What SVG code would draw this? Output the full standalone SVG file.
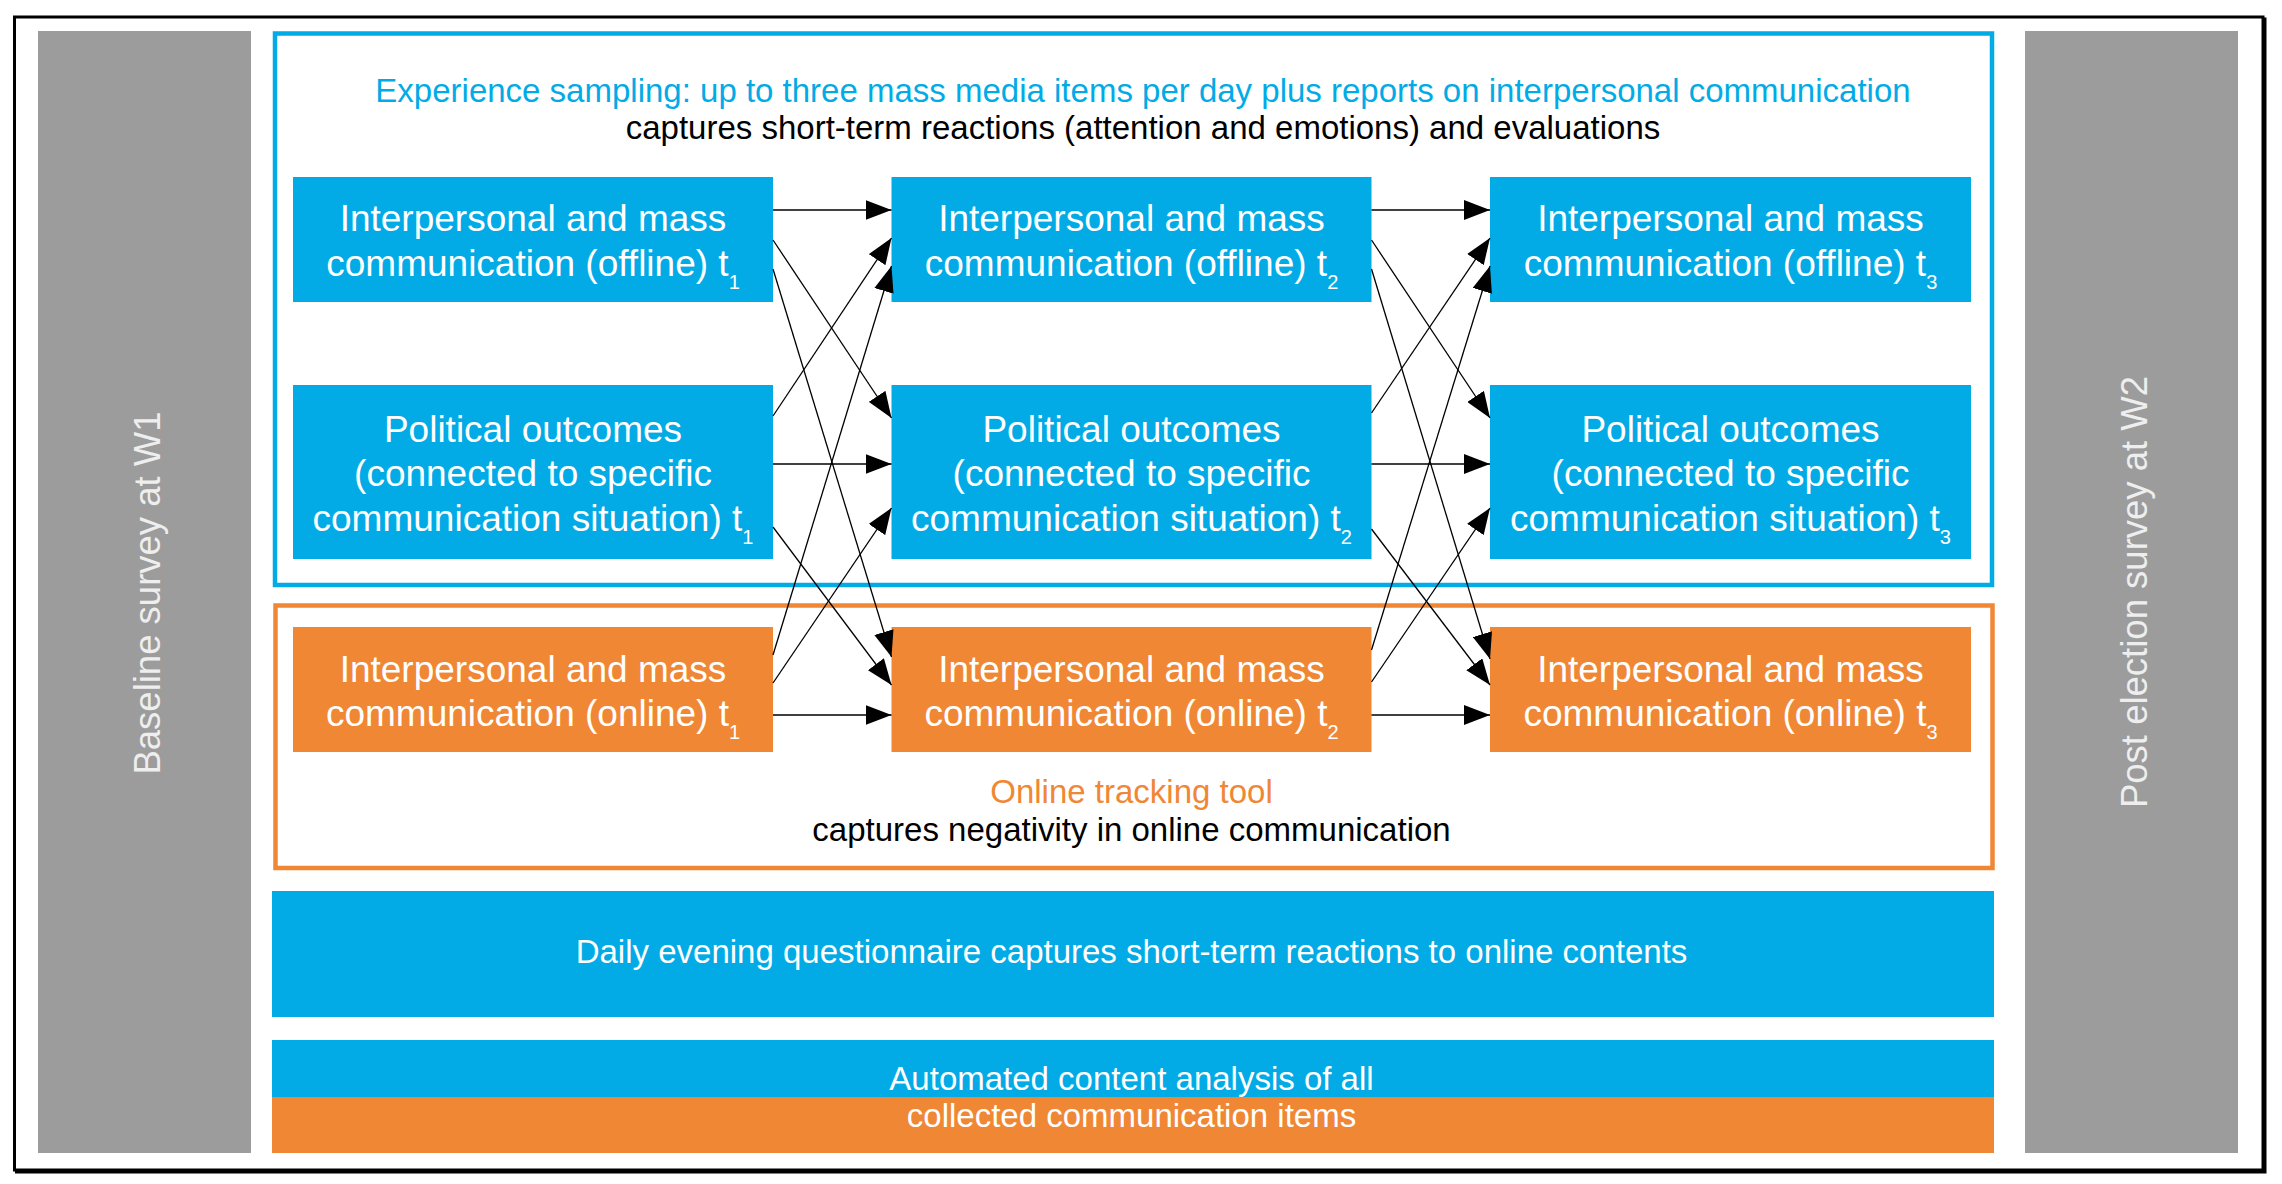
<svg xmlns="http://www.w3.org/2000/svg" width="2282" height="1184" viewBox="0 0 2282 1184">
  <style>
    .t { font-family: "Liberation Sans", Arial, sans-serif; }
    .node-blue { fill: #02abe6; }
    .node-orange { fill: #f08735; }
    .bar { fill: #9c9c9c; }
    .nt { font-family: "Liberation Sans", Arial, sans-serif; font-size: 37px; fill: #ffffff; text-anchor: middle; }
    .sub { font-size: 20px; }
    .side { font-family: "Liberation Sans", Arial, sans-serif; font-size: 36.5px; fill: #eeeeee; text-anchor: middle; }
    .cap { font-family: "Liberation Sans", Arial, sans-serif; font-size: 33px; text-anchor: middle; }
    .conn line { stroke: #000000; stroke-width: 1.3; marker-end: url(#arrow); }
  </style>
  <defs>
    <marker id="arrow" markerUnits="userSpaceOnUse" markerWidth="26" markerHeight="20" refX="26" refY="10" orient="auto">
      <path d="M0,0 L26,10 L0,20 Z" fill="#000000"/>
    </marker>
  </defs>

  <rect width="2282" height="1184" fill="#ffffff"/>

  <!-- outer frame with slight shadow -->
  <rect x="16.5" y="19" width="2248.5" height="1153" fill="none" stroke="#000000" stroke-width="3"/>
  <rect x="14.5" y="17" width="2248.5" height="1153" fill="#ffffff" stroke="#000000" stroke-width="3"/>

  <!-- side survey bars -->
  <g id="baseline-survey">
    <rect class="bar" x="38" y="31" width="213" height="1122"/>
    <text class="side" transform="translate(160,593) rotate(-90)">Baseline survey at W1</text>
  </g>
  <g id="post-election-survey">
    <rect class="bar" x="2025" y="31" width="213" height="1122"/>
    <text class="side" transform="translate(2147,592) rotate(-90)">Post election survey at W2</text>
  </g>

  <!-- experience sampling frame -->
  <g id="experience-sampling">
    <rect x="275" y="33.5" width="1717" height="551.5" fill="none" stroke="#02abe6" stroke-width="4.5"/>
    <text class="cap" x="1143" y="101.5" fill="#02abe6">Experience sampling: up to three mass media items per day plus reports on interpersonal communication</text>
    <text class="cap" x="1143" y="138.5" fill="#000000">captures short-term reactions (attention and emotions) and evaluations</text>
  </g>

  <!-- online tracking frame -->
  <g id="online-tracking">
    <rect x="275.5" y="605.5" width="1717" height="262.5" fill="none" stroke="#f08735" stroke-width="4.5"/>
    <text class="cap" x="1131.5" y="802.5" fill="#f08735">Online tracking tool</text>
    <text class="cap" x="1131.5" y="840.5" fill="#000000">captures negativity in online communication</text>
  </g>

  <!-- offline communication nodes -->
  <g id="offline-t1">
    <rect class="node-blue" x="293" y="177" width="480" height="125"/>
    <text class="nt" x="533" y="231">Interpersonal and mass</text>
    <text class="nt" x="533" y="275.5">communication (offline) t<tspan class="sub" dy="13">1</tspan></text>
  </g>
  <g id="offline-t2">
    <rect class="node-blue" x="891.5" y="177" width="480" height="125"/>
    <text class="nt" x="1131.5" y="231">Interpersonal and mass</text>
    <text class="nt" x="1131.5" y="275.5">communication (offline) t<tspan class="sub" dy="13">2</tspan></text>
  </g>
  <g id="offline-t3">
    <rect class="node-blue" x="1490" y="177" width="481" height="125"/>
    <text class="nt" x="1730.5" y="231">Interpersonal and mass</text>
    <text class="nt" x="1730.5" y="275.5">communication (offline) t<tspan class="sub" dy="13">3</tspan></text>
  </g>

  <!-- political outcome nodes -->
  <g id="political-t1">
    <rect class="node-blue" x="293" y="385" width="480" height="174"/>
    <text class="nt" x="533" y="441.5">Political outcomes</text>
    <text class="nt" x="533" y="486">(connected to specific</text>
    <text class="nt" x="533" y="530.5">communication situation) t<tspan class="sub" dy="13">1</tspan></text>
  </g>
  <g id="political-t2">
    <rect class="node-blue" x="891.5" y="385" width="480" height="174"/>
    <text class="nt" x="1131.5" y="441.5">Political outcomes</text>
    <text class="nt" x="1131.5" y="486">(connected to specific</text>
    <text class="nt" x="1131.5" y="530.5">communication situation) t<tspan class="sub" dy="13">2</tspan></text>
  </g>
  <g id="political-t3">
    <rect class="node-blue" x="1490" y="385" width="481" height="174"/>
    <text class="nt" x="1730.5" y="441.5">Political outcomes</text>
    <text class="nt" x="1730.5" y="486">(connected to specific</text>
    <text class="nt" x="1730.5" y="530.5">communication situation) t<tspan class="sub" dy="13">3</tspan></text>
  </g>

  <!-- online communication nodes -->
  <g id="online-t1">
    <rect class="node-orange" x="293" y="627" width="480" height="125"/>
    <text class="nt" x="533" y="681.5">Interpersonal and mass</text>
    <text class="nt" x="533" y="725.5">communication (online) t<tspan class="sub" dy="13">1</tspan></text>
  </g>
  <g id="online-t2">
    <rect class="node-orange" x="891.5" y="627" width="480" height="125"/>
    <text class="nt" x="1131.5" y="681.5">Interpersonal and mass</text>
    <text class="nt" x="1131.5" y="725.5">communication (online) t<tspan class="sub" dy="13">2</tspan></text>
  </g>
  <g id="online-t3">
    <rect class="node-orange" x="1490" y="627" width="481" height="125"/>
    <text class="nt" x="1730.5" y="681.5">Interpersonal and mass</text>
    <text class="nt" x="1730.5" y="725.5">communication (online) t<tspan class="sub" dy="13">3</tspan></text>
  </g>

  <!-- daily questionnaire band -->
  <g id="daily-questionnaire">
    <rect class="node-blue" x="272" y="891" width="1722" height="126"/>
    <text class="cap" x="1131.5" y="962.5" fill="#ffffff">Daily evening questionnaire captures short-term reactions to online contents</text>
  </g>

  <!-- automated content analysis band -->
  <g id="content-analysis">
    <rect class="node-blue" x="272" y="1040" width="1722" height="57"/>
    <rect class="node-orange" x="272" y="1097" width="1722" height="56"/>
    <text class="cap" x="1131.5" y="1089.5" fill="#ffffff">Automated content analysis of all</text>
    <text class="cap" x="1131.5" y="1126.5" fill="#ffffff">collected communication items</text>
  </g>

  <!-- cross-lagged connectors -->
  <g id="connectors" class="conn">
    <line x1="773" y1="210" x2="891.5" y2="210"/>
    <line x1="773" y1="240" x2="891.5" y2="418"/>
    <line x1="773" y1="269" x2="891.5" y2="657"/>
    <line x1="773" y1="416" x2="891.5" y2="238"/>
    <line x1="773" y1="464" x2="891.5" y2="464"/>
    <line x1="773" y1="527" x2="891.5" y2="685"/>
    <line x1="773" y1="655" x2="891.5" y2="266"/>
    <line x1="773" y1="683" x2="891.5" y2="508"/>
    <line x1="773" y1="715" x2="891.5" y2="715"/>

    <line x1="1371.5" y1="210" x2="1490" y2="210"/>
    <line x1="1371.5" y1="240" x2="1490" y2="418"/>
    <line x1="1371.5" y1="269" x2="1490" y2="659"/>
    <line x1="1371.5" y1="413" x2="1490" y2="238"/>
    <line x1="1371.5" y1="464" x2="1490" y2="464"/>
    <line x1="1371.5" y1="529" x2="1490" y2="685"/>
    <line x1="1371.5" y1="650" x2="1490" y2="266"/>
    <line x1="1371.5" y1="682" x2="1490" y2="508"/>
    <line x1="1371.5" y1="715" x2="1490" y2="715"/>
  </g>
</svg>
